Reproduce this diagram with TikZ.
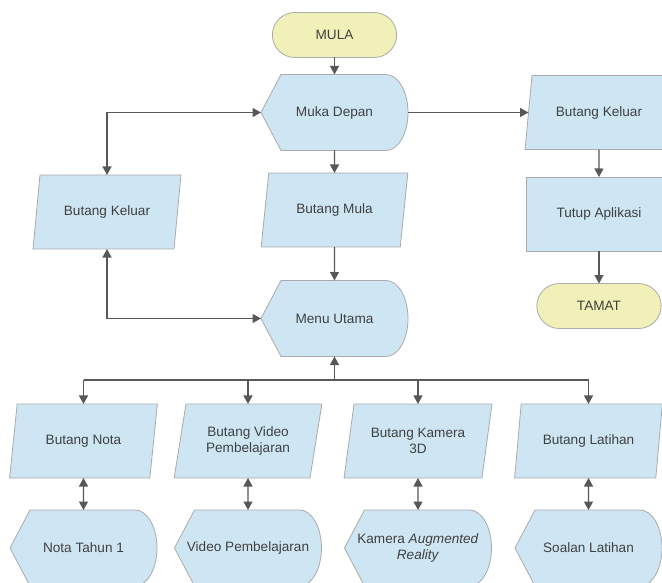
\documentclass[tikz,border=0pt]{standalone}
\usepackage{fontspec}
\setmainfont{Liberation Sans}
\usetikzlibrary{arrows.meta,shapes.geometric,shapes.misc,backgrounds}
\definecolor{biru}{RGB}{206,230,243}
\definecolor{kuning}{RGB}{240,240,184}
\definecolor{bingkai}{RGB}{170,170,170}
\definecolor{garis}{RGB}{88,88,88}
\definecolor{teks}{RGB}{64,64,64}
\tikzset{
  hujung/.style={draw=bingkai,line width=0.8pt,fill=kuning,rounded rectangle,minimum width=131pt,
                 minimum height=45pt,outer sep=0pt},
  masukan/.style={draw=bingkai,line width=0.8pt,fill=biru,trapezium,trapezium left angle=76,
                  trapezium right angle=104,trapezium stretches=true,minimum width=148pt,
                  minimum height=74pt,align=center,outer sep=0pt},
  proses/.style={draw=bingkai,line width=0.8pt,fill=biru,minimum width=146pt,minimum height=74pt,
                 outer sep=0pt},
  paparan/.style={minimum width=147pt,minimum height=76pt,align=center,outer sep=0pt},
  bentuk/.style={draw=bingkai,line width=0.8pt,fill=biru},
  garisan/.style={draw=garis,line width=1.3pt},
  panah/.style={garisan,-{Triangle[length=8.5pt,width=9pt]}},
  dwipanah/.style={garisan,{Triangle[length=8.5pt,width=9pt]}-{Triangle[length=8.5pt,width=9pt]}},
}

\begin{document}
\begin{tikzpicture}[x=1pt,y=-1pt,text=teks,font=\fontsize{13.6}{15.5}\selectfont]
  \useasboundingbox (0,0) rectangle (662,583);
  % aliran utama
  \node[hujung] (mula) at (334.5,35) {MULA};
  \node[paparan] (muka) at (334.5,112.5) {Muka Depan};
  \node[masukan] (bmula) at (334.5,210) {Butang Mula};
  \node[masukan] (keluarA) at (107,212) {Butang Keluar};
  \node[paparan] (menu) at (334.5,318.5) {Menu Utama};
  % keluar aplikasi
  \node[masukan] (keluarB) at (599,112.5) {Butang Keluar};
  \node[proses] (tutup) at (599,214) {Tutup Aplikasi};
  \node[hujung] (tamat) at (599,306) {TAMAT};
  % menu
  \node[masukan] (bnota) at (83.5,441) {Butang Nota};
  \node[masukan] (bvideo) at (248,441) {Butang Video\\Pembelajaran};
  \node[masukan] (bkamera) at (418,441) {Butang Kamera\\3D};
  \node[masukan] (blatihan) at (588.5,441) {Butang Latihan};
  \node[paparan] (nota) at (83.5,548) {Nota Tahun 1};
  \node[paparan] (video) at (248,548) {Video Pembelajaran};
  \node[paparan] (kamera) at (418,548) {Kamera \textit{Augmented}\\\textit{Reality}};
  \node[paparan] (soalan) at (588.5,548) {Soalan Latihan};
  \begin{scope}[on background layer]
    \foreach \n in {muka,menu,nota,video,kamera,soalan}
      \draw[bentuk] (\n.west) -- ([xshift=20pt]\n.north west) -- ([xshift=-22pt]\n.north east)
        arc[start angle=90,end angle=-90,x radius=22pt,y radius=38pt]
        -- ([xshift=20pt]\n.south west) -- cycle;
  \end{scope}
  % anak panah
  \draw[panah] (mula.south) -- (muka.north);
  \draw[panah] (muka.south) -- (bmula.north);
  \draw[panah] (bmula.south) -- (menu.north);
  \draw[panah] (muka.east) -- (keluarB.left side);
  \draw[panah] (keluarB.south) -- (tutup.north);
  \draw[panah] (tutup.south) -- (tamat.north);
  \draw[dwipanah] (muka.west) -| (keluarA.north);
  \draw[dwipanah] (menu.west) -| (keluarA.south);
  \coordinate (cabang) at (334.5,380);
  \draw[garisan] (bnota.north |- cabang) -- (blatihan.north |- cabang);
  \draw[panah] (cabang) -- (menu.south);
  \foreach \n in {bnota,bvideo,bkamera,blatihan}
    \draw[panah] (\n.north |- cabang) -- (\n.north);
  \foreach \a/\b in {bnota/nota,bvideo/video,bkamera/kamera,blatihan/soalan}
    \draw[dwipanah] (\a.south) -- (\b.north);
\end{tikzpicture}
\end{document}
